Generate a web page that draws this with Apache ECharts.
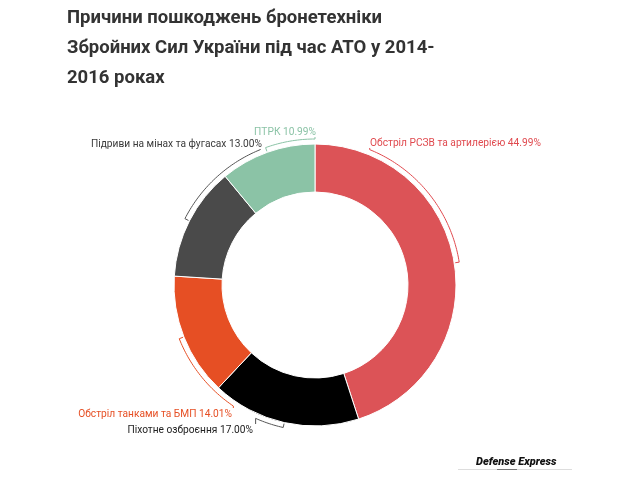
<!DOCTYPE html>
<html>
<head>
<meta charset="utf-8">
<script src="https://cdn.jsdelivr.net/npm/echarts@6/dist/echarts.min.js"></script>
<style>
  html, body { margin: 0; padding: 0; background: #fff; }
  #main { width: 639px; height: 477px; }
</style>
</head>
<body>
<div id="main"></div>
<script>
// дані
var names = ['Обстріл РСЗВ та артилерією', 'Піхотне озброєння', 'Обстріл танками та БМП', 'Підриви на мінах та фугасах', 'ПТРК'];
var values = [44.99, 17.00, 14.01, 13.00, 10.99];
var colors = ['#dc5357', '#000000', '#e64f24', '#4a4a4a', '#8bc3a6'];
var labelColors = ['#e04a4f', '#222222', '#e64f24', '#3a3a3a', '#8bc3a6'];
var lineColors = ['#e04a4f', '#555555', '#e64f24', '#555555', '#8bc3a6'];

// де стоять підписи (кут від верху за годинниковою, x, y, вирівнювання)
var labelAngle = [22, -156, -146, -22, 0];
var labelX = [370, 253, 232, 262, 316];
var labelY = [143, 430, 414, 144, 132];
var labelAlign = ['left', 'right', 'right', 'right', 'right'];

var cx = 315, cy = 285, rOut = 141, rIn = 93, rLine = 146;

function pt(a, r) {
	var rad = a * Math.PI / 180;
	return [cx + r * Math.sin(rad), cy - r * Math.cos(rad)];
}

var charts = echarts.init(document.getElementById('main'));
var option = {
	animation: false,
	title: {
		text: 'Причини пошкоджень бронетехніки\nЗбройних Сил України під час АТО у 2014-\n2016 роках',
		left: 62,
		top: -2,
		textStyle: {
			fontFamily: 'Roboto',
			fontSize: 18.5,
			fontWeight: 'bold',
			color: '#333333',
			lineHeight: 30
		}
	},
	graphic: [
		{
			type: 'text',
			left: 476,
			top: 457,
			style: {
				text: 'Defense Express',
				fontFamily: 'Roboto',
				fontSize: 11,
				fontStyle: 'italic',
				fontWeight: 900,
				fill: '#111'
			}
		},
		{
			type: 'line',
			shape: { x1: 458, y1: 469.5, x2: 572, y2: 469.5 },
			style: { stroke: '#dddddd', lineWidth: 1 }
		},
		{
			type: 'line',
			shape: { x1: 497, y1: 469.5, x2: 517, y2: 469.5 },
			style: { stroke: '#777777', lineWidth: 1 }
		}
	],
	series: [
		{
			type: 'pie',
			center: [cx, cy],
			radius: [rIn, rOut],
			startAngle: 90,
			clockwise: true,
			avoidLabelOverlap: false,
			itemStyle: {
				borderColor: '#ffffff',
				borderWidth: 1
			},
			label: {
				show: true,
				position: 'outside',
				fontFamily: 'Roboto',
				fontSize: 10.2,
				formatter: function (p) {
					return p.name + ' ' + p.value.toFixed(2) + '%';
				}
			},
			labelLine: {
				show: true,
				length: 6,
				length2: 6,
				lineStyle: { width: 1 }
			},
			labelLayout: function (p) {
				var i = p.dataIndex;
				var p0 = p.labelLinePoints[0];
				var aMid = Math.atan2(p0[0] - cx, -(p0[1] - cy)) * 180 / Math.PI;
				var aEnd = labelAngle[i];
				var pts = [pt(aMid, rOut + 1)];
				var n = Math.max(2, Math.ceil(Math.abs(aEnd - aMid)));
				for (var k = 0; k <= n; k++) {
					pts.push(pt(aMid + (aEnd - aMid) * k / n, rLine));
				}
				var last = pts[pts.length - 1];
				pts.push([last[0], labelY[i] + (labelY[i] < cy ? 5 : -6)]);
				return {
					x: labelX[i],
					y: labelY[i],
					align: labelAlign[i],
					verticalAlign: 'middle',
					labelLinePoints: pts
				};
			},
			data: names.map(function (n, i) {
				return {
					name: n,
					value: values[i],
					itemStyle: { color: colors[i] },
					label: { color: labelColors[i] },
					labelLine: { lineStyle: { color: lineColors[i] } }
				};
			})
		}
	]
};
charts.setOption(option);
</script>
</body>
</html>
